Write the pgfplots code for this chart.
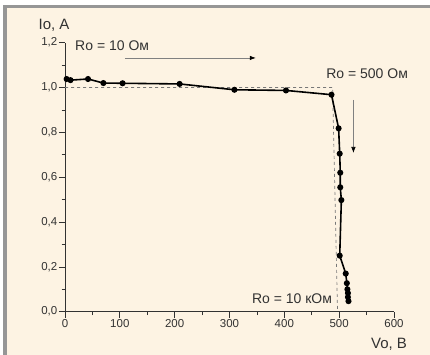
\documentclass[border=0pt]{standalone}
\usepackage{fontspec}
\setmainfont{Liberation Sans}
\usepackage{pgfplots}
\pgfplotsset{compat=1.18}
\usetikzlibrary{arrows.meta}
\definecolor{cream}{RGB}{253,243,227}
\definecolor{bordergray}{RGB}{150,150,150}
\definecolor{txt}{RGB}{50,50,50}
\definecolor{dashgray}{RGB}{120,120,120}
\begin{document}
\begin{tikzpicture}[x=1pt,y=1pt]
\useasboundingbox (0,0) rectangle (430,355);
\fill[white] (0,0) rectangle (430,355);
\fill[cream] (4,0) rectangle (430,348);
\draw[bordergray, line width=3.3pt] (5,0) -- (5,348.3) -- (430,348.3);
\begin{axis}[
  at={(65pt,43.3pt)}, anchor=south west,
  scale only axis, width=329pt, height=269pt,
  xmin=0, xmax=600, ymin=0, ymax=1.2,
  axis lines=left, axis line style={-, txt, line width=0.8pt},
  clip=false,
  xtick={0,100,...,600}, minor xtick={50,150,...,550},
  ytick={0,0.2,...,1.2}, minor ytick={0.1,0.3,...,1.1},
  tick style={txt, line width=0.7pt},
  tick align=outside,
  major tick length=6pt, minor tick length=3.5pt,
  tick label style={font=\fontsize{11.5}{12}\selectfont, text=txt},
  yticklabel style={inner xsep=1.5pt},
  xticklabel style={inner ysep=2pt},
  /pgf/number format/assume math mode=true,
  yticklabel style={/pgf/number format/.cd, fixed, fixed zerofill, precision=1, use comma},
  xticklabel style={/pgf/number format/.cd, fixed, precision=0},
  scaled ticks=false,
]
\addplot[dashgray, dashed, line width=0.7pt, forget plot] coordinates {(0,1.0) (488,1.0) (497,0)};
\addplot[black, line width=1.6pt, mark=*, mark size=2.2pt] coordinates {
(3,1.038) (10,1.033) (42,1.038) (70,1.02) (105,1.019) (209,1.016)
(309,0.990) (403,0.987) (486,0.968) (499,0.818) (501,0.705) (502,0.620)
(502,0.555) (504,0.498) (501,0.250) (512,0.170) (514,0.127) (515,0.100)
(516,0.083) (516,0.065) (517,0.047)};
\node[text=txt, font=\fontsize{15}{16}\selectfont] at (axis cs:-20,1.279) {Io, А};
\node[text=txt, font=\fontsize{14}{15}\selectfont] at (axis cs:86,1.185) {Ro = 10 Ом};
\node[text=txt, font=\fontsize{14}{15}\selectfont] at (axis cs:551,1.06) {Ro = 500 Ом};
\node[text=txt, font=\fontsize{14}{15}\selectfont] at (axis cs:414,0.057) {Ro = 10 кОм};
\node[text=txt, font=\fontsize{15}{16}\selectfont] at (axis cs:591,-0.145) {Vo, В};
\draw[gray, line width=0.7pt, -{Latex[black,length=6pt,width=4.5pt]}] (axis cs:109,1.132) -- (axis cs:348,1.132);
\draw[gray, line width=0.7pt, -{Latex[black,length=6pt,width=4.5pt]}] (axis cs:526,0.945) -- (axis cs:526,0.708);
\end{axis}
\end{tikzpicture}
\end{document}
